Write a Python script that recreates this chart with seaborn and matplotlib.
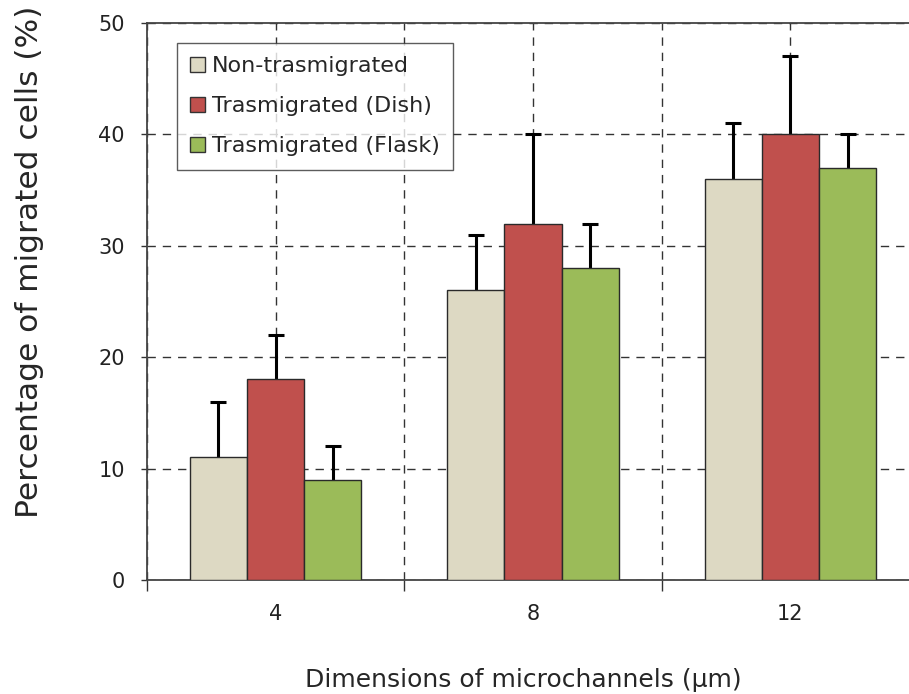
import numpy as np
import pandas as pd
import matplotlib
matplotlib.use("Agg")
import matplotlib.pyplot as plt
import seaborn as sns

channels = ["4", "8", "12"]
groups = ["Non-trasmigrated", "Trasmigrated (Dish)", "Trasmigrated (Flask)"]
non_tras = [11, 26, 36]
tras_dish = [18, 32, 40]
tras_flask = [9, 28, 37]
non_tras_err = [5, 5, 5]
tras_dish_err = [4, 8, 7]
tras_flask_err = [3, 4, 3]
colors = ["#DDD9C3", "#C0504D", "#9BBB59"]

df = pd.DataFrame({
    "channel": channels * 3,
    "group": np.repeat(groups, len(channels)),
    "value": non_tras + tras_dish + tras_flask,
})
errs = [non_tras_err, tras_dish_err, tras_flask_err]

sns.set_style("white")
plt.rcParams["font.family"] = ["DejaVu Sans"]

fig = plt.figure(figsize=(9.09, 6.94), dpi=100)
ax = fig.add_axes([147 / 909, 114 / 694, 772 / 909, 557 / 694])

sns.barplot(data=df, x="channel", y="value", hue="group", order=channels,
            hue_order=groups, palette=colors, width=0.667, errorbar=None,
            edgecolor="#2a2a2a", linewidth=1.0, saturation=1, ax=ax, zorder=3)

# one-sided (upper) error bars
for container, err in zip(ax.containers, errs):
    xs = [b.get_x() + b.get_width() / 2 for b in container]
    ys = [b.get_height() for b in container]
    eb = ax.errorbar(xs, ys, yerr=[np.zeros(len(err)), err], fmt="none",
                     ecolor="black", elinewidth=2.2, capsize=5.5, capthick=2.2,
                     zorder=2)
    eb[1][0].set_visible(False)

ax.set_xlim(-0.5, 2.5)
ax.set_ylim(0, 50)
ax.set_yticks([0, 10, 20, 30, 40, 50])
ax.set_xticks(range(len(channels)))
ax.set_xticklabels(channels)
ax.set_xticks([-0.5, 0.5, 1.5, 2.5], minor=True)

ax.tick_params(axis="x", which="major", length=0, pad=17, labelsize=15,
               labelcolor="#222222")
ax.tick_params(axis="x", which="minor", length=8, width=1, color="#333333",
               direction="out", bottom=True)
ax.tick_params(axis="y", length=4, width=1, color="#333333", pad=12,
               labelsize=15, labelcolor="#222222", left=True)

ax.grid(True, axis="both", which="major", linestyle=(0, (6, 5)),
        color="#333333", linewidth=1, zorder=0)
ax.grid(True, axis="x", which="minor", linestyle=(0, (6, 5)),
        color="#333333", linewidth=1, zorder=0)
ax.set_axisbelow(True)

for side in ["left", "bottom", "top"]:
    ax.spines[side].set_color("#444444")
    ax.spines[side].set_linewidth(1.3)
ax.spines["right"].set_visible(False)

ax.set_xlabel("Dimensions of microchannels (µm)", fontsize=18)
ax.set_ylabel("Percentage of migrated cells (%)", fontsize=22.5)
ax.xaxis.set_label_coords(0.487, -0.1795)
ax.yaxis.set_label_coords(-0.1516, 0.571)
ax.xaxis.label.set_va("center")
ax.yaxis.label.set_va("center")

leg = ax.legend(loc="upper left", bbox_to_anchor=(0.039, 0.964),
                borderaxespad=0, fontsize=16, frameon=True, fancybox=False,
                handlelength=0.65, handleheight=0.65, handletextpad=0.3,
                labelspacing=0.9, borderpad=0.6)
leg.get_frame().set_edgecolor("#333333")
leg.get_frame().set_linewidth(1.0)
for h in leg.legend_handles:
    h.set_edgecolor("#333333")

fig.savefig("out.png", dpi=100)
